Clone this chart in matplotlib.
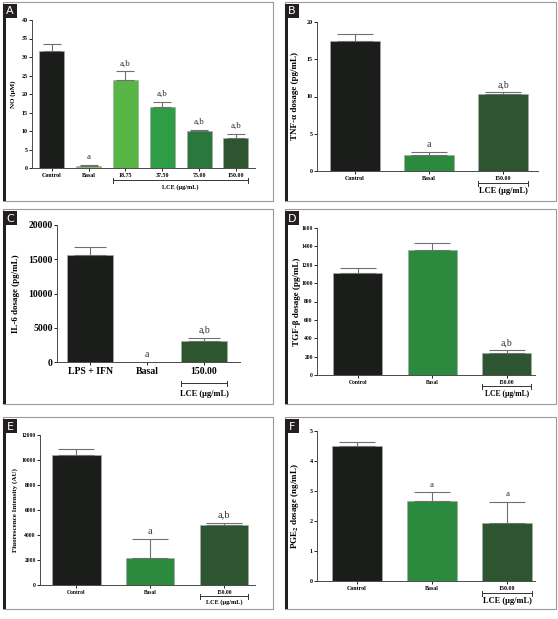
import matplotlib
matplotlib.use('Agg')
import matplotlib.pyplot as plt
from matplotlib.patches import Rectangle

plt.rcParams['font.family'] = 'Liberation Serif'
plt.rcParams['mathtext.fontset'] = 'stix'

# ---- data ----
no_labels = ['Control', 'Basal', '18.75', '37.50', '75.00', '150.00']
no_means = [31.6, 0.45, 23.7, 16.6, 10.1, 8.1]
no_err = [2.0, 0.45, 2.5, 1.3, 0.3, 1.2]
no_marks = ['', 'a', 'a,b', 'a,b', 'a,b', 'a,b']

tnf_labels = ['Control', 'Basal', '150.00']
tnf_means = [17.4, 2.1, 10.3]
tnf_err = [1.0, 0.45, 0.25]
tnf_marks = ['', 'a', 'a,b']

il6_labels = ['LPS + IFN', 'Basal', '150.00']
il6_means = [15600, 0, 3020]
il6_err = [1230, 0, 490]
il6_marks = ['', 'a', 'a,b']

tgf_labels = ['Control', 'Basal', '150.00']
tgf_means = [1109, 1356, 244]
tgf_err = [55, 77, 25]
tgf_marks = ['', '', 'a,b']

fl_labels = ['Control', 'Basal', '150.00']
fl_means = [10400, 2200, 4800]
fl_err = [480, 1470, 190]
fl_marks = ['', 'a', 'a,b']

pge_labels = ['Control', 'Basal', '150.00']
pge_means = [4.50, 2.67, 1.93]
pge_err = [0.14, 0.29, 0.71]
pge_marks = ['', 'a', 'a']

BLACK = '#1b1d1b'
C_BASAL_A = '#72c95e'
C_1875 = '#57b545'
C_3750 = '#2f9d46'
C_7500 = '#2a783b'
C_150 = '#2c5530'
C_BASAL = '#2b8a3e'

W, H = 558, 619
fig = plt.figure(figsize=(W / 100, H / 100), dpi=100)
fig.patch.set_facecolor('white')


def fx(px):
    return px / W


def fy(py):
    return 1 - py / H


def panel(x0, y0, x1, y1, letter):
    # thin grey frame
    fig.patches.append(Rectangle((fx(x0), fy(y1)), fx(x1 - x0), (y1 - y0) / H,
                                 transform=fig.transFigure, fill=False,
                                 edgecolor='#9a9a9a', lw=0.8))
    # letter box
    bx0, by0 = x0, y0 + 2
    fig.patches.append(Rectangle((fx(bx0), fy(by0 + 14)), fx(14), 14 / H,
                                 transform=fig.transFigure, facecolor='#231f20',
                                 edgecolor='none'))
    fig.text(fx(bx0 + 7), fy(by0 + 7.5), letter, color='white', fontsize=8,
             family='DejaVu Sans', ha='center', va='center')
    # thick black stripe on the left
    fig.patches.append(Rectangle((fx(x0), fy(y1)), fx(3), (y1 - by0 - 14) / H,
                                 transform=fig.transFigure, facecolor='#231f20',
                                 edgecolor='none'))


def chart(box, xlim, labels, means, err, colors, marks, ymax, ystep, ylabel,
          width, tick_fs, lab_fs, mark_fs, ylab_px, bracket, lce_fs):
    left, right, top, bottom = box
    ax = fig.add_axes([fx(left), fy(bottom), fx(right - left), (bottom - top) / H])
    x = list(range(len(labels)))
    ax.bar(x, means, width=width, color=colors, edgecolor='#a8a8a8', lw=0.5, zorder=2)
    for xi, m, e in zip(x, means, err):
        if e > 0:
            ax.errorbar(xi, m, yerr=[[0], [e]], fmt='none', ecolor='#707070',
                        elinewidth=0.8, capthick=0.8,
                        capsize=width * (right - left) / (xlim[1] - xlim[0]) * 0.26,
                        zorder=3)
    for xi, m, e, t in zip(x, means, err, marks):
        if t:
            ax.annotate(t, (xi, m + e), xytext=(0, 2.5), textcoords='offset points',
                        ha='center', va='bottom', fontsize=mark_fs, color='#333333')
    ax.set_xlim(*xlim)
    ax.set_ylim(0, ymax)
    ticks = []
    v = 0
    while v <= ymax + 1e-9:
        ticks.append(v)
        v += ystep
    ax.set_yticks(ticks)
    ax.set_xticks(x)
    ax.set_xticklabels(labels, fontsize=tick_fs, fontweight='bold')
    ax.tick_params(axis='y', labelsize=tick_fs, length=2, width=0.6, pad=1)
    ax.tick_params(axis='x', length=2, width=0.6, pad=1.5)
    for lbl in ax.get_yticklabels():
        lbl.set_fontweight('bold')
    for s in ['top', 'right']:
        ax.spines[s].set_visible(False)
    for s in ['left', 'bottom']:
        ax.spines[s].set_color('#4a4a4a')
        ax.spines[s].set_linewidth(0.7)
    ax.set_ylabel(ylabel, fontsize=lab_fs, fontweight='bold')
    ax.yaxis.set_label_coords((ylab_px - left) / (right - left), 0.5)
    ax.yaxis.label.set_va('center')
    # LCE bracket below the extract bars
    i0, i1, b_px, t_px = bracket
    h = bottom - top
    tr = ax.get_xaxis_transform()
    yb = -(b_px - bottom) / h
    ax.plot([i0 - width / 2, i1 + width / 2], [yb, yb], transform=tr,
            color='#333333', lw=0.7, clip_on=False)
    for xe in (i0 - width / 2, i1 + width / 2):
        ax.plot([xe, xe], [yb - 2.5 / h, yb + 2.5 / h], transform=tr,
                color='#333333', lw=0.7, clip_on=False)
    ax.text((i0 + i1) / 2, -(t_px - bottom) / h, 'LCE (μg/mL)', transform=tr,
            ha='center', va='center', fontsize=lce_fs, fontweight='bold')
    return ax


panel(3, 2, 273, 201, 'A')
panel(285, 2, 556, 201, 'B')
panel(3, 209, 273, 404, 'C')
panel(285, 209, 556, 404, 'D')
panel(3, 417, 273, 609, 'E')
panel(285, 417, 556, 609, 'F')

chart((32, 255, 20, 168), (-0.54, 5.52), no_labels, no_means, no_err,
      [BLACK, C_BASAL_A, C_1875, C_3750, C_7500, C_150], no_marks, 40, 5,
      'NO (μM)', 0.68, 4.3, 5, 6.5, 13, (2, 5, 180, 187), 4.5)

chart((317, 538, 22, 171), (-0.51, 2.47), tnf_labels, tnf_means, tnf_err,
      [BLACK, C_BASAL, C_150], tnf_marks, 20, 5,
      'TNF-α dosage (pg/mL)', 0.68, 4.3, 6.5, 7, 295, (2, 2, 183, 191), 6)

chart((57, 240, 225, 362), (-0.58, 2.63), il6_labels, il6_means, il6_err,
      [BLACK, C_BASAL, C_150], il6_marks, 20000, 5000,
      'IL-6 dosage (pg/mL)', 0.8, 7, 6.5, 7, 16, (2, 2, 383, 394), 6)

chart((317, 535, 228, 375), (-0.55, 2.38), tgf_labels, tgf_means, tgf_err,
      [BLACK, C_BASAL, C_150], tgf_marks, 1600, 200,
      'TGF-β dosage (pg/mL)', 0.66, 4, 6.5, 7, 297, (2, 2, 386, 394), 5.5)

chart((40, 255, 435, 585), (-0.49, 2.42), fl_labels, fl_means, fl_err,
      [BLACK, C_BASAL, C_150], fl_marks, 12000, 2000,
      'Fluorescence Intensity (AU)', 0.66, 4, 5, 7.5, 15, (2, 2, 596, 602), 4.5)

chart((317, 535, 431, 581), (-0.53, 2.37), pge_labels, pge_means, pge_err,
      [BLACK, C_BASAL, C_150], pge_marks, 5, 1,
      r'PGE$_\mathbf{2}$ dosage (ng/mL)', 0.66, 4.3, 6.5, 6.5, 295, (2, 2, 593, 601), 6)

fig.savefig('out.png', dpi=100, facecolor='white')
